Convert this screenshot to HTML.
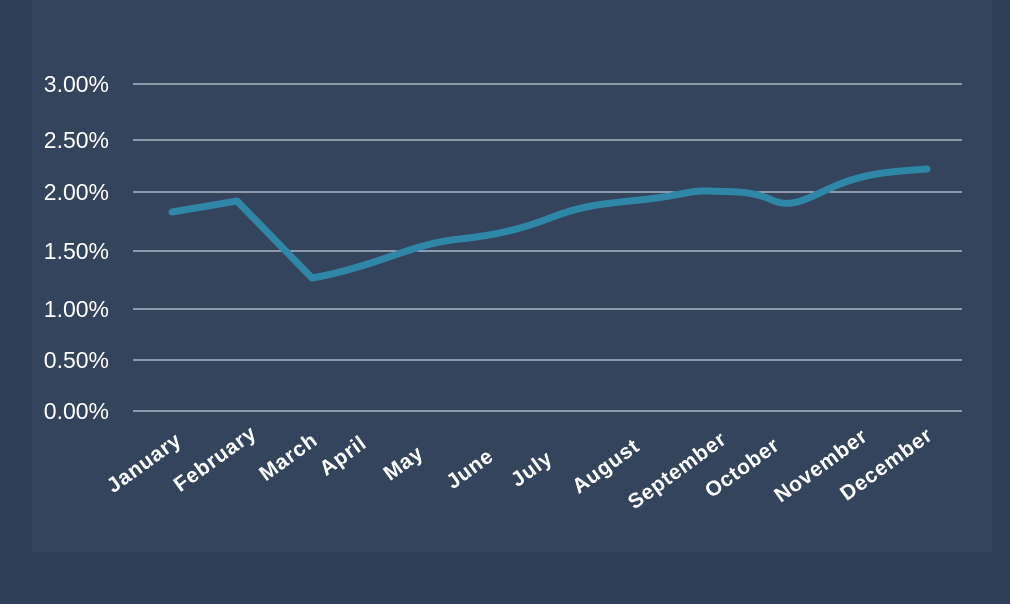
<!DOCTYPE html>
<html><head><style>
body{margin:0;background:#2f3d55;}
svg{display:block}
</style></head><body>
<svg width="1010" height="604" xmlns="http://www.w3.org/2000/svg">
<rect width="1010" height="604" fill="#2f3d55"/>
<rect x="32" y="0" width="960" height="552" fill="#34445c"/>
<g stroke="#c4ccd8" stroke-width="1.2">
<line x1="133" y1="84" x2="962" y2="84"/>
<line x1="133" y1="140" x2="962" y2="140"/>
<line x1="133" y1="192" x2="962" y2="192"/>
<line x1="133" y1="251" x2="962" y2="251"/>
<line x1="133" y1="309" x2="962" y2="309"/>
<line x1="133" y1="360" x2="962" y2="360"/>
<line x1="133" y1="411" x2="962" y2="411"/>
</g>
<g font-family="Liberation Sans, sans-serif" font-size="23" fill="#ffffff" text-anchor="end">
<text x="109" y="92">3.00%</text>
<text x="109" y="148">2.50%</text>
<text x="109" y="200">2.00%</text>
<text x="109" y="259">1.50%</text>
<text x="109" y="317">1.00%</text>
<text x="109" y="368">0.50%</text>
<text x="109" y="419">0.00%</text>
</g>
<path d="M172,212 L237,201 L312,278 C330,275 350,270 380,260 S430,242 460,239 S520,230 550,218 S600,204 640,200 S690,190 710,191 S750,190 772,200 S810,196 840,184 S900,171 927,169" fill="none" stroke="#2f87a8" stroke-width="7" stroke-linecap="round" stroke-linejoin="round"/>
<g font-family="Liberation Sans, sans-serif" font-size="21" font-weight="bold" fill="#ffffff" text-anchor="end" letter-spacing="0.8">
<text transform="translate(183,443) rotate(-36)">January</text>
<text transform="translate(258,436) rotate(-36)">February</text>
<text transform="translate(319,443) rotate(-36)">March</text>
<text transform="translate(368,446) rotate(-36)">April</text>
<text transform="translate(425,456) rotate(-36)">May</text>
<text transform="translate(495,459) rotate(-36)">June</text>
<text transform="translate(554,461) rotate(-36)">July</text>
<text transform="translate(641,449) rotate(-36)">August</text>
<text transform="translate(728,442) rotate(-36)">September</text>
<text transform="translate(781,448) rotate(-36)">October</text>
<text transform="translate(869,439) rotate(-36)">November</text>
<text transform="translate(934,438) rotate(-36)">December</text>
</g>
</svg>
</body></html>
